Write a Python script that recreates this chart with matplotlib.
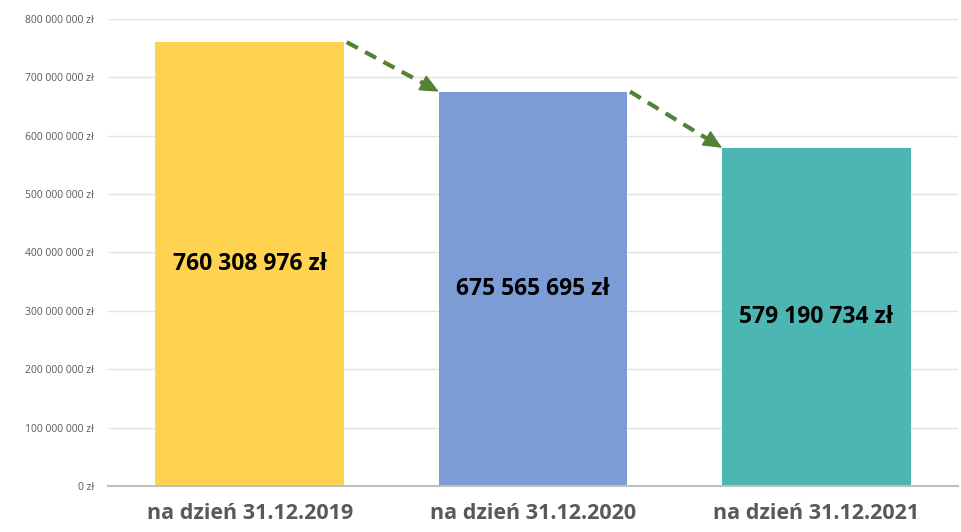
import numpy as np
import matplotlib.pyplot as plt
from matplotlib.ticker import FuncFormatter

categories = ["na dzień 31.12.2019", "na dzień 31.12.2020", "na dzień 31.12.2021"]
values = [760308976, 675565695, 579190734]
bar_colors = ["#FFD34F", "#7B9CD5", "#4CB6B2"]
labels = ["760 308 976 zł", "675 565 695 zł", "579 190 734 zł"]

plt.rcParams['font.family'] = ['Open Sans', 'DejaVu Sans']

fig = plt.figure(figsize=(9.61, 5.32), dpi=100)
ax = fig.add_axes([0.1124, 0.0865, 0.8845, 0.8778])

x = list(range(len(categories)))
width = 0.665
ax.bar(x, values, width=width, color=bar_colors, zorder=2)

ax.set_xlim(-0.5, 2.5)
ax.set_ylim(0, 800000000)

# value labels in the middle of each bar
for i, v in enumerate(values):
    ax.text(i, v / 2, labels[i], ha='center', va='center',
            fontsize=16.5, fontweight='bold', color='black', zorder=3)

# dashed arrows between bar tops, with a solid head
green = '#548235'
for i in range(len(values) - 1):
    x0 = i + width / 2 + 0.01
    x1 = i + 1 - width / 2
    p0 = ax.transData.transform((x0, values[i]))
    p1 = ax.transData.transform((x1, values[i + 1]))
    d = (p1 - p0) / np.hypot(*(p1 - p0))
    head = 20  # pixels
    pm = p1 - d * head * 0.9
    xm, ym = ax.transData.inverted().transform(pm)
    ax.plot([x0, xm], [values[i], ym], color=green, lw=3,
            linestyle=(0, (3, 2)), solid_capstyle='butt', zorder=4)
    off = -d * head * 72 / fig.dpi
    ax.annotate('', xy=(x1, values[i + 1]), xytext=(off[0], off[1]),
                textcoords='offset points',
                arrowprops=dict(arrowstyle='-|>,head_length=1.2,head_width=0.55',
                                color=green, lw=1, shrinkA=0, shrinkB=0),
                zorder=4)

ax.set_yticks(range(0, 800000001, 100000000))


def fmt(v, pos):
    if v == 0:
        return "0 zł"
    return "{:,.0f}".format(v).replace(",", " ") + " zł"


ax.yaxis.set_major_formatter(FuncFormatter(fmt))
ax.set_xticks(x)
ax.set_xticklabels(categories, fontsize=15.5, fontweight='bold', color='#595959')
ax.tick_params(axis='y', labelsize=7.5, colors='#595959', length=0, pad=10)
ax.tick_params(axis='x', length=0, pad=12)

ax.grid(axis='y', color='#E3E3E3', linewidth=1, zorder=0)
for s in ['top', 'right', 'left']:
    ax.spines[s].set_visible(False)
ax.spines['bottom'].set_color('#BFBFBF')
ax.spines['bottom'].set_linewidth(1.5)

fig.savefig('out.png', dpi=100)
